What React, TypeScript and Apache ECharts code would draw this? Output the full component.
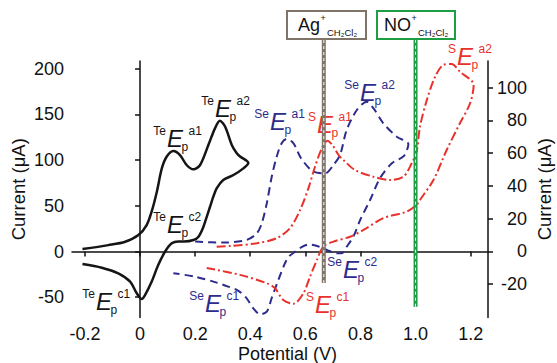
import React, { useEffect, useRef } from "react";
import * as echarts from "echarts";

const FONT = "'Liberation Sans', Arial, Helvetica, sans-serif";

// Tick values
const xTicks = [-0.2, 0, 0.2, 0.4, 0.6, 0.8, 1.0, 1.2];
const leftTicks = [-50, 0, 50, 100, 150, 200];
const rightTicks = [-20, 0, 20, 40, 60, 80, 100];

// Te CV (left axis, µA)
const tePotential = [
  -0.209, -0.115, -0.054, -0.006, 0.024, 0.042, 0.061, 0.079, 0.097, 0.121, 0.145, 0.169, 0.194, 0.218,
  0.248, 0.272, 0.29, 0.309, 0.333, 0.351, 0.363, 0.393, 0.375, 0.339, 0.302, 0.278, 0.266, 0.254, 0.242,
  0.23, 0.212, 0.194, 0.16, 0.139, 0.115, 0.091, 0.066, 0.042, 0.018, 0.006, -0.012, -0.036, -0.079,
  -0.139, -0.209,
];
const teCurrent = [
  2.7, 7, 10.7, 18, 29, 43.6, 65.5, 91, 104, 110, 105.6, 94.7, 90, 94.7, 116.6, 134.8, 143, 136.6, 116.6,
  107.5, 104, 97, 91, 83.7, 78.3, 69.2, 60, 49, 38, 27, 16.2, 12.6, 11, 11, 9, 0, -14.8, -33, -47.6, -52,
  -45.7, -33, -23.9, -17.7, -13.7,
];

// Se CV (right axis, µA)
const sePotential = [
  0.2, 0.302, 0.387, 0.424, 0.442, 0.46, 0.478, 0.496, 0.514, 0.532, 0.557, 0.584, 0.629, 0.672, 0.702,
  0.726, 0.75, 0.787, 0.823, 0.847, 0.883, 0.932, 0.974, 0.958, 0.914, 0.871, 0.835, 0.799, 0.774, 0.75,
  0.732, 0.71, 0.678, 0.64, 0.611, 0.585, 0.56, 0.54, 0.526, 0.502, 0.478, 0.46, 0.436, 0.411, 0.387,
  0.357, 0.32, 0.278, 0.2, 0.121,
];
const seCurrent = [
  6, 5.4, 7, 11.1, 17.2, 29.4, 45.6, 57.8, 66, 68.6, 66, 57, 48.7, 47.7, 52.8, 58.9, 74.1, 86.3, 91.4,
  87.4, 78.2, 70, 65.5, 58.3, 53.8, 44.7, 31.4, 19.2, 9, 2.9, -1.1, -1, 0.9, 3.5, 4.2, 2.5, -0.5, -3.2,
  -7.2, -17.4, -28.4, -36.7, -38.3, -34.7, -28.6, -24, -21.5, -19, -15.4, -13.3,
];

// S CV (right axis, µA)
const sPotential = [
  0.278, 0.33, 0.424, 0.496, 0.544, 0.581, 0.611, 0.635, 0.66, 0.68, 0.698, 0.72, 0.74, 0.78, 0.847,
  0.907, 0.956, 0.986, 1.004, 1.016, 1.041, 1.071, 1.101, 1.131, 1.161, 1.211, 1.198, 1.161, 1.113,
  1.065, 1.016, 1.004, 0.968, 0.883, 0.811, 0.762, 0.702, 0.665, 0.642, 0.617, 0.593, 0.557, 0.52, 0.49,
  0.46, 0.363, 0.242,
];
const sCurrent = [
  2.9, 3.4, 5, 8.1, 14.2, 25.3, 38.5, 51.7, 63, 67.6, 65, 59, 55.5, 49.7, 45.6, 43.6, 45.6, 53.8, 60.9,
  76.1, 92.4, 106.6, 113.8, 114.4, 109.7, 101.6, 90.4, 78.2, 61.9, 43.6, 31.4, 28.4, 24.3, 20.3, 13.1, 9,
  6, 2.9, -5.2, -15.4, -25.5, -31.9, -29.6, -22.5, -19.4, -14.3, -10.1,
];

// Reference potentials (V) and their vertical extent (right-axis units)
const agPotential = [0.667, 0.667];
const agExtent = [-19.3, 129];
const noPotential = [1.0, 1.0];
const noExtent = [-33.7, 129];

const zip = (a: number[], b: number[]) => a.map((v, i) => [v, b[i]]);

const TE_COLOR = "#151515";
const SE_COLOR = "#2d2b8b";
const S_COLOR = "#e8322b";
const AG_COLOR = "#7f7468";
const NO_COLOR = "#1e9e42";

function epLabel(prefix: string, sup: string, x: number, y: number, color: string) {
  const base = { fill: color, fontFamily: FONT, verticalAlign: "middle" };
  return {
    type: "group",
    x,
    y,
    children: [
      { type: "text", x: -1, y: -16, style: { ...base, text: prefix, fontSize: 12, align: "right" } },
      { type: "text", x: 0, y: -8.5, style: { ...base, text: "E", fontSize: 24, fontStyle: "italic", align: "left" } },
      { type: "text", x: 14.5, y: -0.5, style: { ...base, text: "p", fontSize: 12, align: "left" } },
      { type: "text", x: 21.5, y: -16, style: { ...base, text: sup, fontSize: 12, align: "left" } },
    ],
  };
}

function refBox(label: string, x: number, w: number, color: string, textX: number) {
  const base = { fill: "#111", fontFamily: FONT, verticalAlign: "middle" };
  const mainW = label === "Ag" ? 22 : 27;
  return {
    type: "group",
    x,
    y: 11,
    children: [
      { type: "rect", shape: { x: 0, y: 0, width: w, height: 28 }, style: { fill: "#fff", stroke: color, lineWidth: 2 } },
      { type: "text", x: textX, y: 14, style: { ...base, text: label, fontSize: 18, align: "left" } },
      { type: "text", x: textX + mainW + 0.5, y: 7, style: { ...base, text: "+", fontSize: 9, align: "left" } },
      { type: "text", x: textX + mainW + 7, y: 21.5, style: { ...base, text: "CH₂Cl₂", fontSize: 9.5, align: "left" } },
    ],
  };
}

export default function App() {
  const ref = useRef<HTMLDivElement>(null);
  useEffect(() => {
    document.body.style.margin = "0";
    if (!ref.current) return;
    const chart = echarts.init(ref.current, undefined, { renderer: "svg" });
    const axisLineStyle = { color: "#111", width: 1.5 };
    const labelStyle = { color: "#111", fontSize: 18, fontFamily: FONT };
    const nameStyle = { color: "#111", fontSize: 18.5, fontFamily: FONT };

    const refLine = (xs: number[], ys: number[], color: string, w: number) => [
      {
        type: "line",
        yAxisIndex: 1,
        data: zip(xs, ys),
        showSymbol: false,
        clip: false,
        silent: true,
        z: 5,
        lineStyle: { color, width: w },
      },
      {
        type: "line",
        yAxisIndex: 1,
        data: zip(xs, ys),
        showSymbol: false,
        clip: false,
        silent: true,
        z: 6,
        lineStyle: { color: "#ffffff", width: 1, type: [3, 3] },
      },
    ];

    chart.setOption({
      animation: false,
      backgroundColor: "#fff",
      grid: { left: 72, right: 69, top: 61, bottom: 45.5, outerBoundsMode: "none" },
      xAxis: {
        type: "value",
        min: -0.247,
        max: 1.263,
        axisLine: { lineStyle: axisLineStyle },
        axisTick: { length: 5, lineStyle: axisLineStyle, customValues: xTicks },
        axisLabel: {
          ...labelStyle,
          margin: 7,
          customValues: xTicks,
          formatter: (v: number) => (v === 0 ? "0" : v.toFixed(1)),
        },
        splitLine: { show: false },
      },
      yAxis: [
        {
          type: "value",
          min: -72.2,
          max: 208.5,
          position: "left",
          name: "Current (μA)",
          nameLocation: "middle",
          nameGap: 44,
          nameMoveOverlap: false,
          nameTextStyle: nameStyle,
          axisLine: { show: true, lineStyle: axisLineStyle },
          axisTick: { show: true, length: 5, lineStyle: axisLineStyle, customValues: leftTicks },
          axisLabel: { ...labelStyle, margin: 8, customValues: leftTicks },
          splitLine: { show: false },
        },
        {
          type: "value",
          min: -40.3,
          max: 116.2,
          position: "right",
          name: "Current (μA)",
          nameLocation: "middle",
          nameGap: 47,
          nameMoveOverlap: false,
          nameTextStyle: nameStyle,
          axisLine: { show: true, lineStyle: axisLineStyle },
          axisTick: { show: true, length: 5, lineStyle: axisLineStyle, customValues: rightTicks },
          axisLabel: { ...labelStyle, margin: 39, align: "right", customValues: rightTicks },
          splitLine: { show: false },
        },
      ],
      series: [
        {
          type: "line",
          name: "Te",
          yAxisIndex: 0,
          data: zip(tePotential, teCurrent),
          showSymbol: false,
          smooth: 0.3,
          lineStyle: { color: TE_COLOR, width: 2.5 },
          z: 3,
        },
        {
          type: "line",
          name: "Se",
          yAxisIndex: 1,
          data: zip(sePotential, seCurrent),
          showSymbol: false,
          smooth: 0.3,
          lineStyle: { color: SE_COLOR, width: 2, type: [8, 5] },
          z: 3,
        },
        {
          type: "line",
          name: "S",
          yAxisIndex: 1,
          data: zip(sPotential, sCurrent),
          showSymbol: false,
          smooth: 0.3,
          lineStyle: { color: S_COLOR, width: 2, type: [9, 3, 2, 3] },
          z: 3,
        },
        ...refLine(agPotential, agExtent, AG_COLOR, 4),
        ...refLine(noPotential, noExtent, NO_COLOR, 4),
      ],
      graphic: [
        {
          type: "text",
          x: 287.5,
          y: 354,
          style: {
            text: "Potential (V)",
            fontSize: 18,
            fontFamily: FONT,
            fill: "#111",
            align: "center",
            verticalAlign: "middle",
          },
        },
        refBox("Ag", 287, 79, AG_COLOR, 11),
        refBox("NO", 377, 78, NO_COLOR, 7),
        epLabel("Te", "a1", 167, 147, TE_COLOR),
        epLabel("Te", "a2", 215, 117, TE_COLOR),
        epLabel("Te", "c2", 167, 233, TE_COLOR),
        epLabel("Te", "c1", 96, 310, TE_COLOR),
        epLabel("Se", "a1", 270, 130, SE_COLOR),
        epLabel("Se", "a2", 360, 101, SE_COLOR),
        epLabel("Se", "c2", 343, 278, SE_COLOR),
        epLabel("Se", "c1", 205, 312, SE_COLOR),
        epLabel("S", "a1", 317, 133, S_COLOR),
        epLabel("S", "a2", 457, 65, S_COLOR),
        epLabel("S", "c1", 315, 313, S_COLOR),
      ],
    } as any);
    return () => chart.dispose();
  }, []);
  return <div ref={ref} style={{ width: 557, height: 363 }} />;
}
